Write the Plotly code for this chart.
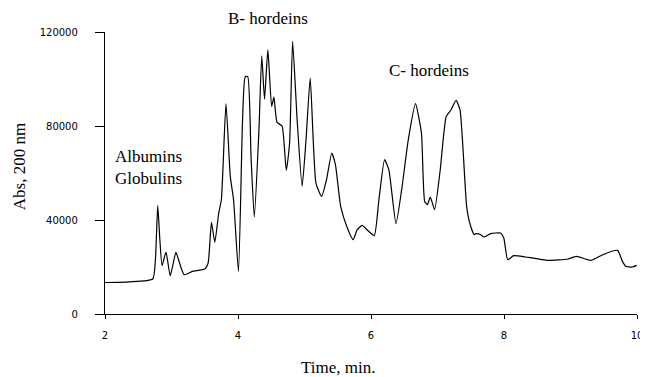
import plotly.graph_objects as go

# Retention time (min) and absorbance at 200 nm
time_min = [2.000, 2.372, 2.718, 2.758, 2.793, 2.825, 2.858, 2.917, 2.981, 3.066,
            3.115, 3.190, 3.313, 3.502, 3.551, 3.601, 3.651, 3.710, 3.750, 3.819,
            3.884, 3.933, 4.007, 4.067, 4.107, 4.146, 4.196, 4.245, 4.315, 4.357,
            4.399, 4.449, 4.506, 4.540, 4.587, 4.662, 4.726, 4.776, 4.821, 4.889,
            4.964, 5.023, 5.086, 5.172, 5.257, 5.331, 5.410, 5.465, 5.544, 5.643,
            5.732, 5.792, 5.866, 5.955, 6.049, 6.119, 6.204, 6.268, 6.376, 6.461,
            6.561, 6.669, 6.758, 6.807, 6.848, 6.892, 6.956, 7.041, 7.130, 7.204,
            7.279, 7.338, 7.438, 7.487, 7.551, 7.576, 7.651, 7.700, 7.799, 7.948,
            7.997, 8.056, 8.146, 8.320, 8.468, 8.666, 8.963, 9.088, 9.311, 9.484,
            9.707, 9.781, 9.832, 9.930, 9.996]
absorbance = [13400, 13700, 14900, 23100, 46200, 31600, 20550, 26380, 16300, 26210,
              22250, 16720, 18130, 19150, 21700, 38980, 30470, 42980, 48630, 89480,
              58550, 48630, 18130, 81270, 100840, 101100, 67060, 41270, 78420, 109900,
              91400, 112460, 88330, 92250, 81530, 80000, 61100, 72760, 116000, 82680,
              54290, 74160, 100420, 55740, 50040, 57150, 68510, 63530, 45780, 36720,
              31610, 35870, 37700, 35440, 33320, 48630, 65650, 61400, 38420, 52890,
              74160, 89480, 77020, 47910, 46510, 49780, 44380, 61400, 83950, 86930,
              90890, 86930, 45780, 38420, 33740, 34170, 33740, 32760, 34170, 34470,
              32340, 23100, 24810, 24250, 23660, 22810, 23400, 24510, 22810, 25230,
              27060, 22380, 20250, 20000, 20680]

x_ticks = [2, 4, 6, 8, 10]
y_ticks = [0, 40000, 80000, 120000]

serif = "Liberation Serif, Times New Roman, serif"
sans = "DejaVu Sans, Verdana, sans-serif"

fig = go.Figure()
fig.add_trace(go.Scatter(x=time_min, y=absorbance, mode="lines",
                         line=dict(color="black", width=1.2, shape="spline", smoothing=0.5),
                         showlegend=False, hoverinfo="skip"))

# page body has an 8px default margin, so the figure is 8px smaller and offset
fig.update_layout(
    width=640, height=369,
    margin=dict(l=97, r=5, t=24, b=63),
    paper_bgcolor="white", plot_bgcolor="white",
    xaxis=dict(range=[2, 10], tickvals=x_ticks, ticktext=[str(v) for v in x_ticks],
               showline=True, linecolor="black", linewidth=1.3, showgrid=False,
               zeroline=False, ticks="outside", ticklen=4, tickcolor="black",
               tickfont=dict(family=sans, size=10, color="black"), ticklabelstandoff=8,
               ticklabeloverflow="allow"),
    yaxis=dict(range=[0, 120000], tickvals=y_ticks, ticktext=[str(v) for v in y_ticks],
               showline=True, linecolor="black", linewidth=1.3, showgrid=False,
               zeroline=False, ticks="outside", ticklen=9, tickcolor="black",
               tickfont=dict(family=sans, size=10, color="black"), ticklabelstandoff=15,
               ticklabeloverflow="allow"),
)

annots = [
    dict(x=2.119, y=62250, xref="x", yref="y", text="Albumins<br>Globulins",
         xanchor="left", yanchor="middle", align="left"),
    dict(x=4.454, y=1.047, xref="x", yref="paper", text="B- hordeins",
         xanchor="center", yanchor="middle"),
    dict(x=6.877, y=103520, xref="x", yref="y", text="C- hordeins",
         xanchor="center", yanchor="middle"),
    dict(x=(341 - 105) / 538, y=(314.3 - 368) / 282, xref="paper", yref="paper",
         text="Time, min.", xanchor="center", yanchor="middle"),
    dict(x=(18.5 - 105) / 538, y=(314.3 - 167) / 282, xref="paper", yref="paper",
         text="Abs, 200 nm", textangle=-90, xanchor="center", yanchor="middle"),
]
for a in annots:
    a.update(showarrow=False, font=dict(family=serif, size=17, color="black"))
    fig.add_annotation(**a)

fig.write_html("out.html")
